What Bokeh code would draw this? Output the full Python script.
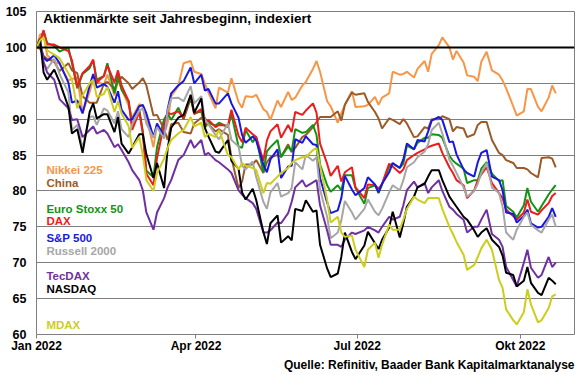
import pandas as pd
from datetime import datetime
from bokeh.plotting import figure
from bokeh.models import Range1d, FixedTicker, Span, Label, Title, CustomJSTickFormatter
from bokeh.embed import file_html
from bokeh.resources import INLINE

dates = [
    "2022-01-01", "2022-01-03", "2022-01-05", "2022-01-07", "2022-01-11", "2022-01-14", "2022-01-19", "2022-01-21", "2022-01-24", "2022-01-27", "2022-01-31",
    "2022-02-02", "2022-02-04", "2022-02-08", "2022-02-10", "2022-02-14", "2022-02-16", "2022-02-18", "2022-02-22", "2022-02-24", "2022-02-28",
    "2022-03-02", "2022-03-04", "2022-03-08", "2022-03-10", "2022-03-14", "2022-03-16", "2022-03-18", "2022-03-22", "2022-03-25", "2022-03-29", "2022-03-31",
    "2022-04-04", "2022-04-06", "2022-04-08", "2022-04-12", "2022-04-14", "2022-04-19", "2022-04-21", "2022-04-25", "2022-04-27", "2022-04-29",
    "2022-05-03", "2022-05-05", "2022-05-09", "2022-05-11", "2022-05-13", "2022-05-17", "2022-05-19", "2022-05-23", "2022-05-25", "2022-05-27", "2022-05-31",
    "2022-06-02", "2022-06-06", "2022-06-08", "2022-06-10", "2022-06-14", "2022-06-16", "2022-06-20", "2022-06-22", "2022-06-24", "2022-06-28", "2022-06-30",
    "2022-07-05", "2022-07-07", "2022-07-11", "2022-07-13", "2022-07-15", "2022-07-19", "2022-07-21", "2022-07-25", "2022-07-27", "2022-07-29",
    "2022-08-02", "2022-08-04", "2022-08-08", "2022-08-10", "2022-08-12", "2022-08-16", "2022-08-18", "2022-08-22", "2022-08-24", "2022-08-26", "2022-08-30",
    "2022-09-01", "2022-09-05", "2022-09-07", "2022-09-09", "2022-09-12", "2022-09-15", "2022-09-19", "2022-09-21", "2022-09-23", "2022-09-27", "2022-09-29",
    "2022-10-03", "2022-10-05", "2022-10-07", "2022-10-11", "2022-10-13", "2022-10-17", "2022-10-19", "2022-10-21",
]

nikkei = [
    100, 101.8, 101.9, 98.9, 98.0, 97.7, 95.4, 95.6, 95.8, 90.9, 93.8,
    95.6, 95.3, 94.8, 96.2, 93.3, 95.4, 94.2, 91.9, 90.2, 92.1,
    91.7, 90.3, 86.1, 89.2, 87.9, 89.5, 93.2, 94.6, 97.8, 98.1, 96.6,
    96.3, 95.0, 93.7, 91.5, 94.4, 93.7, 95.7, 92.4, 91.6, 93.2,
    93.1, 93.4, 91.4, 91.0, 89.9, 92.6, 91.7, 93.8, 92.7, 93.0, 94.7,
    95.2, 97.0, 98.1, 96.6, 92.5, 91.8, 89.5, 90.8, 92.0, 93.9, 91.7,
    91.8, 92.0, 93.1, 92.0, 93.0, 93.6, 96.6, 96.2, 96.3, 96.6,
    95.8, 97.0, 98.1, 96.6, 99.1, 100.3, 101.4, 100.0, 98.3, 99.5, 97.9,
    96.1, 95.9, 95.3, 98.0, 99.4, 96.8, 96.2, 95.4, 94.3, 91.8, 90.5,
    91.1, 94.2, 94.2, 91.7, 91.1, 93.0, 94.7, 93.6,
]

china = [
    100, 99.8, 98.8, 98.4, 98.0, 96.7, 97.8, 96.8, 96.4, 93.2, 92.3,
    92.3, 92.3, 94.9, 95.2, 94.2, 95.2, 95.9, 95.0, 94.2, 95.1,
    95.7, 94.7, 90.5, 90.6, 88.6, 87.1, 89.3, 89.5, 88.2, 88.0, 89.4,
    90.2, 90.2, 89.3, 88.3, 88.6, 87.8, 84.6, 80.4, 81.3, 83.7,
    83.7, 84.3, 82.5, 84.0, 84.7, 85.0, 84.8, 86.5, 85.4, 86.0, 87.5,
    87.8, 88.9, 89.6, 90.3, 90.3, 90.3, 91.1, 89.8, 92.0, 93.7, 93.4,
    93.6, 92.4, 91.0, 90.1, 88.7, 90.1, 89.9, 89.3, 90.0, 89.4,
    87.5, 87.6, 88.9, 88.7, 90.0, 90.0, 90.4, 90.0, 88.3, 88.9, 88.7,
    87.5, 87.9, 89.2, 89.6, 89.6, 87.1, 85.3, 85.0, 84.3, 83.9, 83.2,
    83.2, 83.0, 82.5, 81.9, 84.6, 84.7, 84.5, 83.3,
]

eurostoxx = [
    100, 100.8, 102.2, 100.6, 100.2, 99.4, 100.0, 97.8, 94.3, 96.3, 97.1,
    98.2, 95.5, 96.0, 97.8, 93.6, 96.2, 94.1, 92.5, 89.1, 91.3,
    88.3, 82.8, 81.9, 86.1, 90.0, 90.8, 89.9, 91.6, 90.0, 92.9, 90.8,
    91.1, 88.8, 89.5, 89.1, 89.5, 88.9, 90.7, 86.2, 86.0, 88.5,
    86.8, 87.5, 82.6, 85.5, 86.1, 87.1, 84.7, 86.2, 85.5, 88.6, 88.1,
    88.2, 89.2, 87.8, 83.7, 80.8, 79.9, 80.8, 80.1, 82.2, 82.2, 80.4,
    78.2, 80.4, 80.8, 79.7, 80.9, 83.4, 83.8, 83.2, 83.8, 86.3,
    85.8, 86.7, 87.4, 87.4, 87.9, 87.8, 87.4, 84.9, 84.2, 83.8, 83.1,
    81.1, 81.5, 81.5, 83.1, 84.0, 82.4, 81.4, 81.5, 77.9, 77.1, 76.3,
    78.0, 80.4, 78.5, 77.1, 77.9, 79.5, 80.2, 80.8,
]

dax = [
    100, 100.8, 102.4, 100.4, 100.4, 100.0, 99.5, 98.2, 94.5, 96.4, 97.4,
    98.3, 95.1, 96.0, 97.5, 95.1, 96.8, 94.7, 92.5, 88.5, 91.0,
    88.0, 82.4, 80.8, 84.6, 89.3, 90.9, 90.7, 91.1, 90.1, 93.3, 90.7,
    91.4, 89.1, 89.9, 88.9, 89.2, 89.1, 91.3, 87.7, 86.8, 88.8,
    87.9, 87.5, 84.2, 87.0, 88.3, 89.3, 87.4, 89.2, 88.2, 91.0, 90.6,
    91.2, 92.2, 90.9, 86.6, 83.8, 82.1, 83.5, 81.3, 82.6, 83.3, 80.5,
    79.0, 80.9, 80.8, 80.3, 81.0, 83.8, 83.4, 82.5, 83.0, 84.3,
    85.0, 85.3, 85.8, 86.1, 86.3, 86.6, 85.3, 83.3, 82.5, 81.5, 80.8,
    79.0, 80.1, 81.5, 82.3, 83.3, 81.1, 79.7, 79.0, 77.4, 76.5, 76.0,
    77.0, 78.8, 77.1, 76.7, 77.3, 78.3, 79.3, 79.7,
]

sp500 = [
    100, 100.6, 98.6, 98.1, 98.9, 97.8, 95.1, 92.3, 92.6, 90.8, 94.7,
    96.3, 94.4, 94.9, 94.5, 92.3, 93.9, 91.3, 89.9, 90.0, 91.8,
    92.0, 90.8, 87.5, 89.4, 87.6, 91.4, 93.6, 94.7, 95.3, 97.2, 95.0,
    96.2, 94.0, 94.2, 92.2, 92.2, 93.6, 92.2, 90.2, 87.8, 86.7,
    87.6, 87.0, 83.7, 82.6, 84.4, 85.8, 81.8, 83.4, 83.5, 87.2, 86.7,
    87.6, 86.5, 86.4, 81.8, 78.4, 76.9, 77.3, 79.0, 82.1, 80.2, 79.4,
    80.4, 81.9, 80.9, 79.8, 81.0, 82.6, 83.9, 83.2, 84.4, 86.6,
    85.8, 87.1, 86.9, 88.3, 89.8, 90.3, 89.9, 86.8, 86.9, 85.1, 83.0,
    82.5, 82.0, 84.0, 85.3, 85.7, 82.0, 81.5, 80.1, 77.0, 76.8, 75.6,
    76.5, 77.4, 75.5, 74.9, 75.0, 76.4, 77.6, 76.4,
]

russell = [
    100, 101.2, 97.7, 97.0, 98.4, 96.3, 93.7, 88.5, 89.2, 86.0, 90.3,
    90.4, 89.2, 91.5, 91.2, 89.4, 91.1, 88.6, 87.5, 89.3, 91.2,
    91.5, 89.4, 87.4, 88.9, 87.3, 91.2, 92.9, 93.0, 92.5, 94.6, 92.2,
    93.2, 89.9, 89.3, 87.8, 87.2, 89.4, 87.1, 86.2, 83.5, 83.0,
    84.1, 81.9, 78.5, 77.5, 79.8, 81.1, 79.2, 79.7, 80.4, 84.0, 83.0,
    85.0, 84.2, 84.7, 80.2, 76.4, 73.4, 74.2, 75.9, 78.6, 77.0, 76.0,
    77.5, 78.8, 77.1, 76.6, 77.5, 79.8, 80.8, 80.1, 81.5, 83.3,
    84.0, 84.7, 85.5, 86.5, 88.5, 89.5, 88.0, 84.3, 83.5, 82.5, 80.5,
    79.2, 80.0, 81.0, 82.5, 83.9, 80.5, 79.7, 77.8, 74.2, 73.2, 74.6,
    76.4, 77.0, 75.3, 74.5, 74.2, 76.0, 76.7, 75.0,
]

tecdax = [
    100, 100.5, 98.0, 96.5, 95.5, 92.8, 91.5, 89.9, 90.0, 87.5, 88.5,
    89.0, 88.0, 88.5, 88.0, 86.1, 86.5, 85.7, 84.0, 82.9, 81.5,
    80.1, 77.0, 74.6, 77.0, 79.0, 80.5, 81.5, 84.3, 85.0, 87.1, 86.0,
    87.1, 85.0, 85.3, 84.3, 84.0, 83.0, 82.5, 80.1, 79.5, 79.0,
    78.3, 77.5, 74.2, 74.2, 74.5, 75.6, 75.5, 76.9, 78.5, 80.5, 81.5,
    80.6, 81.2, 81.5, 78.0, 74.5, 72.5, 72.5, 72.2, 73.2, 74.2, 74.0,
    74.5, 75.0, 74.5, 74.2, 75.0, 76.4, 76.0, 76.4, 78.0, 80.1,
    81.3, 80.5, 81.1, 79.7, 80.5, 81.5, 80.0, 77.8, 77.4, 76.8, 76.0,
    74.2, 75.0, 75.0, 76.0, 77.4, 74.0, 73.2, 72.2, 69.4, 67.6, 66.7,
    70.0, 71.8, 69.3, 67.9, 68.3, 70.8, 69.4, 70.0,
]

nasdaq = [
    100, 101.2, 96.5, 95.5, 96.9, 95.2, 91.7, 88.0, 88.6, 85.3, 91.0,
    92.2, 90.1, 90.7, 90.7, 88.2, 90.3, 86.6, 85.2, 86.1, 87.9,
    87.9, 85.1, 81.8, 83.9, 80.4, 85.9, 88.8, 90.2, 90.6, 93.4, 90.9,
    92.9, 88.8, 87.6, 85.5, 85.3, 87.1, 84.2, 83.1, 79.8, 78.8,
    80.3, 78.7, 74.3, 72.6, 75.5, 76.6, 72.8, 73.7, 73.1, 77.5, 77.2,
    78.7, 77.1, 77.3, 72.5, 69.2, 68.0, 68.5, 70.8, 74.2, 71.5, 70.5,
    72.4, 74.3, 72.7, 71.9, 73.2, 74.9, 77.1, 73.5, 75.5, 77.8,
    79.2, 80.5, 81.0, 82.0, 82.9, 82.9, 81.5, 79.2, 78.5, 77.8, 76.4,
    76.0, 74.5, 73.6, 74.2, 74.8, 73.2, 72.2, 71.0, 68.6, 68.3, 66.7,
    67.5, 69.4, 67.2, 65.8, 65.5, 67.9, 67.5, 67.0,
]

mdax = [
    100, 101.0, 101.4, 99.6, 99.0, 98.5, 96.4, 95.5, 91.5, 93.3, 95.0,
    95.5, 93.1, 93.5, 94.5, 91.0, 92.5, 90.8, 89.0, 86.0, 87.5,
    85.0, 81.5, 80.0, 82.5, 84.5, 86.0, 87.1, 88.0, 88.5, 90.3, 89.0,
    89.5, 87.5, 88.0, 87.5, 88.5, 85.0, 84.7, 83.0, 83.9, 83.5,
    83.2, 82.9, 79.7, 81.1, 81.0, 82.0, 82.5, 83.2, 83.9, 84.3, 84.7,
    84.7, 85.7, 86.0, 83.5, 78.8, 75.6, 76.4, 74.2, 73.6, 73.8, 71.8,
    69.4, 71.8, 72.8, 70.7, 72.5, 75.3, 74.6, 74.6, 76.0, 77.5,
    79.2, 78.8, 78.3, 79.0, 79.0, 79.0, 77.5, 75.0, 74.0, 72.9, 71.1,
    69.0, 69.7, 70.8, 72.0, 73.2, 71.8, 67.6, 66.5, 63.5, 62.0, 61.4,
    63.1, 66.3, 64.2, 61.7, 62.0, 63.7, 65.3, 65.6,
]

series_names = ["Nikkei 225", "China", "Euro Stoxx 50", "DAX", "S&P 500",
                "Russell 2000", "TecDAX", "NASDAQ", "MDAX"]
series_values = [nikkei, china, eurostoxx, dax, sp500, russell, tecdax, nasdaq, mdax]
series_colors = ["#F79646", "#9C5A28", "#129312", "#EE1C1C", "#1818E0",
                 "#A6A6A6", "#7030A0", "#000000", "#CDCD1E"]

y_ticks = [60, 65, 70, 75, 80, 85, 90, 95, 100, 105]
x_tick_dates = ["2022-01-01", "2022-04-01", "2022-07-01", "2022-10-01"]
x_tick_labels = ["Jan 2022", "Apr 2022", "Jul 2022", "Okt 2022"]

for s in series_values:
    if len(s) != len(dates):
        raise ValueError("length mismatch %d vs %d" % (len(s), len(dates)))

x = pd.to_datetime(dates)
FONT = "Liberation Sans"

def ms(d):
    return pd.Timestamp(d).value // 10**6

p = figure(width=580, height=375, x_axis_type="datetime",
           output_backend="svg", toolbar_location=None,
           x_range=Range1d(datetime(2022, 1, 1), datetime(2022, 10, 31, 14)),
           y_range=Range1d(60, 105),
           min_border_left=36, min_border_right=6, min_border_top=11, min_border_bottom=6)

p.background_fill_color = "white"
p.border_fill_color = "white"
p.outline_line_color = "#7F7F7F"
p.outline_line_width = 1

p.xgrid.grid_line_color = None
p.ygrid.grid_line_color = "#7F7F7F"
p.ygrid.grid_line_width = 1
p.yaxis.ticker = FixedTicker(ticks=y_ticks)
p.yaxis.axis_line_color = None
p.yaxis.major_tick_line_color = None
p.yaxis.minor_tick_line_color = None
p.yaxis.major_label_text_font = FONT
p.yaxis.major_label_text_font_style = "bold"
p.yaxis.major_label_text_font_size = "12.5px"
p.yaxis.major_label_text_color = "black"
p.yaxis.major_label_standoff = 4

tick_ms = [ms(d) for d in x_tick_dates]
p.xaxis.ticker = FixedTicker(ticks=tick_ms)
p.xaxis.formatter = CustomJSTickFormatter(
    args=dict(t=tick_ms, lab=x_tick_labels),
    code="""
    let best = 0, bd = Infinity;
    for (let i = 0; i < t.length; i++) { const d = Math.abs(t[i] - tick); if (d < bd) { bd = d; best = i; } }
    return lab[best];
    """)
p.xaxis.axis_line_color = None
p.xaxis.major_tick_line_color = "#7F7F7F"
p.xaxis.major_tick_out = 4
p.xaxis.major_tick_in = 0
p.xaxis.minor_tick_line_color = None
p.xaxis.major_label_text_font = FONT
p.xaxis.major_label_text_font_style = "bold"
p.xaxis.major_label_text_font_size = "12px"
p.xaxis.major_label_text_color = "black"
p.xaxis.major_label_standoff = 0

p.add_layout(Span(location=100, dimension="width", line_color="black", line_width=2))

for name, vals, col in zip(series_names, series_values, series_colors):
    p.line(x, vals, line_color=col, line_width=2)

title_lbl = Label(x=ms("2022-01-04 20:00"), y=104.0, text="Aktienmärkte seit Jahresbeginn, indexiert",
                  text_font=FONT, text_font_style="bold", text_font_size="13.5px",
                  text_color="black", text_baseline="middle")
p.add_layout(title_lbl)

legend_y = [82.9, 81.1, 77.5, 75.8, 73.5, 71.7, 68.1, 66.3, 61.3]
lx = ms("2022-01-06 14:00")
for name, col, yy in zip(series_names, series_colors, legend_y):
    p.add_layout(Label(x=lx, y=yy, text=name, text_color=col, text_font=FONT,
                       text_font_style="bold", text_font_size="11.5px", text_baseline="middle"))

src = Title(text="Quelle: Refinitiv, Baader Bank Kapitalmarktanalyse", align="right",
            text_font=FONT, text_font_style="bold", text_font_size="12px", text_color="black",
            offset=0, standoff=0)
p.add_layout(src, "below")
spacer = Title(text=" ", text_font=FONT, text_font_size="2px", text_color="white",
               offset=0, standoff=0)
p.add_layout(spacer, "below")

open("out.html", "w").write(file_html(p, INLINE))
